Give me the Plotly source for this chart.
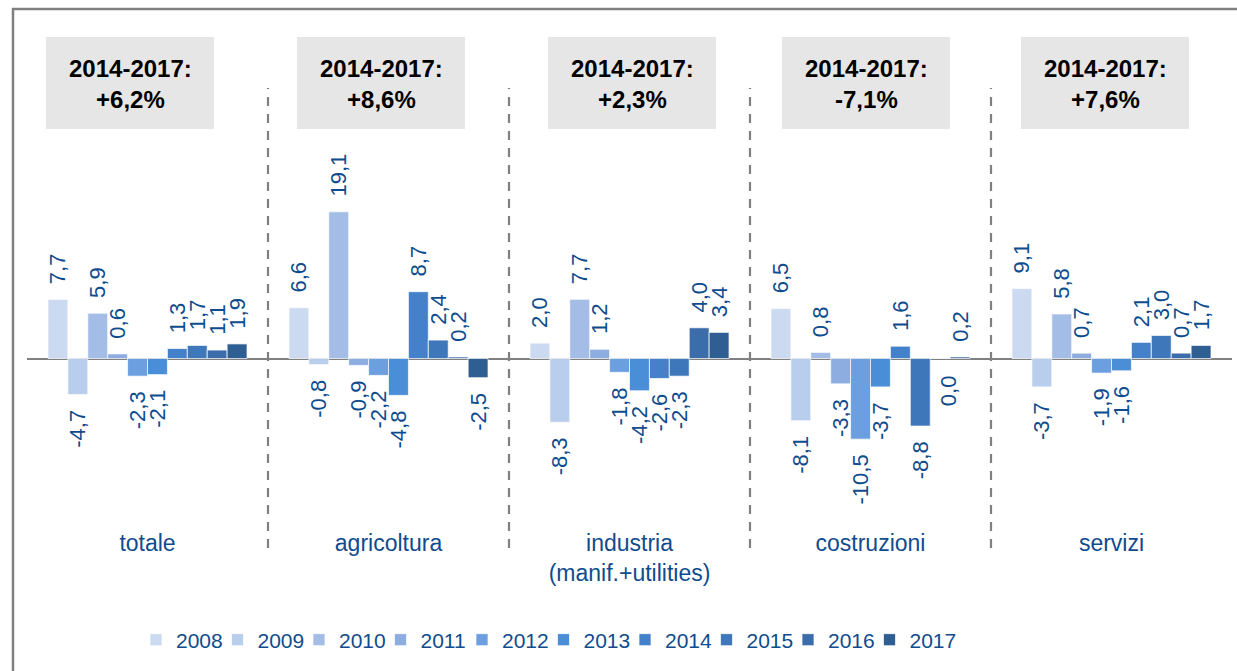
import plotly.graph_objects as go

# ---- data -------------------------------------------------------------
sectors = ["totale", "agricoltura", "industria<br>(manif.+utilities)", "costruzioni", "servizi"]
years = ["2008", "2009", "2010", "2011", "2012", "2013", "2014", "2015", "2016", "2017"]

totale      = [7.7, -4.7, 5.9, 0.6, -2.3, -2.1, 1.3, 1.7, 1.1, 1.9]
agricoltura = [6.6, -0.8, 19.1, -0.9, -2.2, -4.8, 8.7, 2.4, 0.2, -2.5]
industria   = [2.0, -8.3, 7.7, 1.2, -1.8, -4.2, -2.6, -2.3, 4.0, 3.4]
costruzioni = [6.5, -8.1, 0.8, -3.3, -10.5, -3.7, 1.6, -8.8, 0.0, 0.2]
servizi     = [9.1, -3.7, 5.8, 0.7, -1.9, -1.6, 2.1, 3.0, 0.7, 1.7]

change_2014_2017 = ["+6,2%", "+8,6%", "+2,3%", "-7,1%", "+7,6%"]

by_sector = [totale, agricoltura, industria, costruzioni, servizi]

# ---- style ------------------------------------------------------------
colors = ["#CBDAF0", "#B9CDEC", "#A3BDE7", "#8DADE1", "#6B9FE0",
          "#4A8ED7", "#4581CB", "#3E78BB", "#3A6DA9", "#2F5E93"]
label_blue = "#0F4C8E"
grey = "#808080"
font_family = "Liberation Sans, Arial, sans-serif"

W, H = 1237, 671
L, R, T, B = 27, 5, 140, 144
PW, PH = W - L - R, H - T - B
ZERO_PX = 358.5
PX_PER_UNIT = 7.68
y_top = (ZERO_PX - T) / PX_PER_UNIT
y_bot = -((T + PH) - ZERO_PX) / PX_PER_UNIT
BARGAP = 0.174
NBSP = "\u00a0\u00a0"
LEGEND_X0 = 136      # left edge of the legend row, px
LEGEND_STEP = 81.5   # distance between legend entries, px


def xp(px):
    return (px - L) / PW


def yp(py):
    return (T + PH - py) / PH


def fmt(v):
    return f"{v:.1f}".replace(".", ",")


def legend_name(j):
    return "legend" if j == 0 else f"legend{j + 1}"


fig = go.Figure()
annotations = []

for j, year in enumerate(years):
    vals = [s[j] for s in by_sector]
    texts = []
    for i, v in enumerate(vals):
        if v == 0:
            # zero-height bar: label drawn below the axis as an annotation
            texts.append("")
            annotations.append(dict(
                x=i + (j - 4.5) * (1 - BARGAP) / len(years), y=0, xref="x", yref="y",
                text=fmt(v), showarrow=False, textangle=-90, yanchor="top",
                xanchor="center", yshift=-15, xshift=8,
                font=dict(family=font_family, size=22, color=label_blue)))
        elif v > 0:
            texts.append(NBSP + fmt(v))
        else:
            texts.append(fmt(v) + NBSP)
    fig.add_trace(go.Bar(
        name=year, x=list(range(len(sectors))), y=vals,
        marker=dict(color=colors[j], line=dict(color="rgba(255,255,255,0.7)", width=1)),
        text=texts, textposition="outside", textangle=-90,
        constraintext="none", cliponaxis=False,
        textfont=dict(family=font_family, size=22, color=label_blue),
        hoverinfo="skip", legend=legend_name(j),
    ))

shapes = []
# outer frame
shapes.append(dict(type="rect", xref="paper", yref="paper",
                   x0=xp(13), x1=xp(W + 10), y0=yp(H + 10), y1=yp(9),
                   line=dict(color=grey, width=2.5), fillcolor="rgba(0,0,0,0)", layer="below"))
# dashed separators between sectors
for k in range(len(sectors) - 1):
    shapes.append(dict(type="line", xref="x", yref="paper",
                       x0=k + 0.5, x1=k + 0.5, y0=yp(548), y1=yp(88),
                       line=dict(color=grey, width=2.2, dash="9px,8px")))

# grey summary boxes above each sector
box_centers_px = [130, 381, 632, 866, 1105]
for cx, txt in zip(box_centers_px, change_2014_2017):
    shapes.append(dict(type="rect", xref="paper", yref="paper",
                       x0=xp(cx - 84), x1=xp(cx + 84), y0=yp(129), y1=yp(37),
                       line=dict(width=0), fillcolor="#E7E6E6", layer="below"))
    annotations.append(dict(
        x=xp(cx), y=yp(84), xref="paper", yref="paper",
        text=f"<b>2014-2017:<br>{txt}</b>", showarrow=False,
        xanchor="center", yanchor="middle",
        font=dict(family=font_family, size=24, color="#000000")))

# one single-entry legend box per year, laid out in a row
legends = {}
for j in range(len(years)):
    legends[legend_name(j)] = dict(
        orientation="h", xref="container", yref="container",
        x=(LEGEND_X0 + j * LEGEND_STEP) / W, y=1 - 640 / H,
        xanchor="left", yanchor="middle",
        font=dict(family=font_family, size=21, color=label_blue),
        bgcolor="rgba(0,0,0,0)")

fig.update_layout(
    width=W, height=H,
    margin=dict(l=L, r=R, t=T, b=B, autoexpand=False),
    paper_bgcolor="white", plot_bgcolor="white",
    barmode="group", bargap=BARGAP, bargroupgap=0,
    showlegend=True,
    xaxis=dict(tickmode="array", tickvals=list(range(len(sectors))), ticktext=sectors,
               range=[-0.5, len(sectors) - 0.5], showgrid=False, zeroline=False,
               showline=False, ticks="",
               tickfont=dict(family=font_family, size=23, color=label_blue)),
    yaxis=dict(range=[y_bot, y_top], showgrid=False, showticklabels=False,
               zeroline=True, zerolinecolor=grey, zerolinewidth=2, showline=False, ticks=""),
    shapes=shapes,
    annotations=annotations,
    **legends,
)

fig.write_html("out.html")
